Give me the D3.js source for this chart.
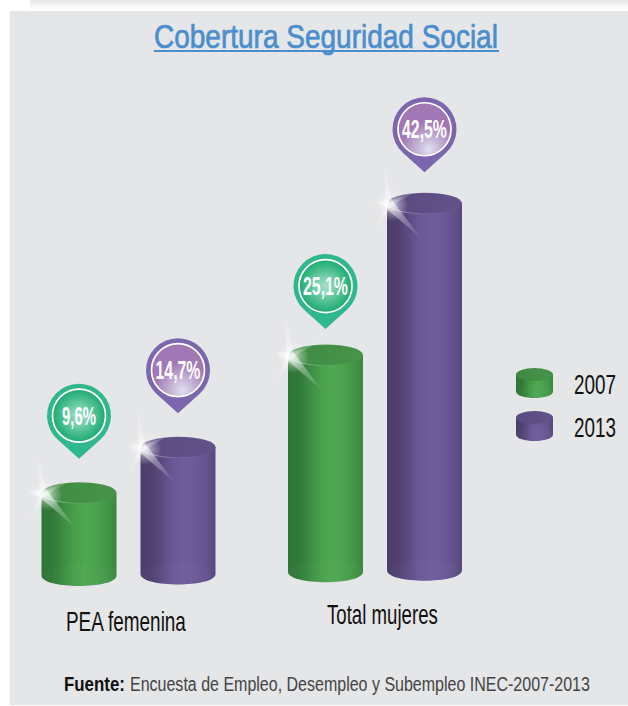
<!DOCTYPE html>
<html><head><meta charset="utf-8">
<script src="https://cdn.jsdelivr.net/npm/d3@7/dist/d3.min.js"></script>
<style>html,body{margin:0;padding:0;background:#fff}svg{display:block}text{font-family:"Liberation Sans Narrow","Liberation Sans",sans-serif}</style>
</head><body><div id="c"></div>
<script>
const titleText = "Cobertura Seguridad Social";
const categories = ["PEA femenina", "Total mujeres"];
const years = ["2007", "2013"];
const values2007 = [9.6, 25.1];
const values2013 = [14.7, 42.5];
const valueLabels2007 = ["9,6%", "25,1%"];
const valueLabels2013 = ["14,7%", "42,5%"];
const sourceBold = "Fuente:";
const sourceText = "Encuesta de Empleo, Desempleo y Subempleo INEC-2007-2013";

const W = 628, H = 706;
const svg = d3.select("#c").append("svg").attr("width", W).attr("height", H);
const defs = svg.append("defs");

const xGroup = d3.scalePoint().domain(categories).range([128.5, 375]);
const xYear = d3.scalePoint().domain(years).range([-49.5, 49.5]);
const hScale = d3.scaleLinear().domain([0, 42.5]).range([0, 367]);
const baseAt = x => 575.6 - (x - 79) * 0.0155;   // the source picture is slightly tilted
const rx = 37.5, ry = 10.5;

const pal = {
  "2007": {stops: ["#2e7537","#317a39","#3d8c43","#489e4c","#4fa851","#4ba34f","#45984a","#3a8741"],
           top: ["#3f8a43","#47944a"], pinOuter:"#2fb88e", pinA:"#a6e3cb", pinB:"#0da565", hl:[.5,.5]},
  "2013": {stops: ["#4c3d6d","#4f406f","#5c4b82","#6a5895","#6f5c9b","#6c5a98","#655391","#56477b"],
           top: ["#5b4a80","#635289"], pinOuter:"#7c66ad", pinA:"#dfe0f0", pinB:"#a278b4", hl:[.58,.88]}
};
years.forEach(y => {
  const p = pal[y];
  const g = defs.append("linearGradient").attr("id","body"+y);
  p.stops.forEach((c,i) => g.append("stop").attr("offset", i/(p.stops.length-1)).attr("stop-color", c));
  const t = defs.append("linearGradient").attr("id","top"+y);
  p.top.forEach((c,i) => t.append("stop").attr("offset", i).attr("stop-color", c));
  const r = defs.append("radialGradient").attr("id","pin"+y).attr("cx",p.hl[0]).attr("cy",p.hl[1]).attr("r",y==="2007"?.55:.7);
  r.append("stop").attr("offset",0).attr("stop-color",p.pinA);
  r.append("stop").attr("offset",y==="2007"?1:.75).attr("stop-color",p.pinB);
});
const sg = defs.append("radialGradient").attr("id","glow");
sg.append("stop").attr("offset",0).attr("stop-color","#fff").attr("stop-opacity",.8);
sg.append("stop").attr("offset",.45).attr("stop-color","#fff").attr("stop-opacity",.35);
sg.append("stop").attr("offset",1).attr("stop-color","#fff").attr("stop-opacity",0);
const sh = defs.append("linearGradient").attr("id","shade").attr("x1",0).attr("x2",0).attr("y1",0).attr("y2",1);
sh.append("stop").attr("offset",0).attr("stop-color","#e6e6e6");
sh.append("stop").attr("offset",1).attr("stop-color","#fff");
const rim = defs.append("linearGradient").attr("id","rim");
rim.append("stop").attr("offset",0).attr("stop-color","#fff").attr("stop-opacity",.7);
rim.append("stop").attr("offset",.5).attr("stop-color","#fff").attr("stop-opacity",.1);
rim.append("stop").attr("offset",1).attr("stop-color","#fff").attr("stop-opacity",0);

// panel
svg.append("rect").attr("x",30).attr("y",0).attr("width",W-30).attr("height",9).attr("fill","url(#shade)");
svg.append("rect").attr("x",10).attr("y",11).attr("width",W-10).attr("height",694).attr("fill","#e5e6e8");

// places text at x,y and squeezes it horizontally to the given width
function fit(parent, x, y, width, str, size, attrs, anchorMiddle){
  const t = parent.append("text").attr("font-size",size).text(str);
  Object.entries(attrs||{}).forEach(([k,v]) => t.attr(k,v));
  const natural = t.node().getComputedTextLength();
  const sx = width / natural;
  const x0 = anchorMiddle ? x - width/2 : x;
  t.attr("transform",`translate(${x0},${y}) scale(${sx},1)`);
  return t;
}

fit(svg, 154, 48, 344, titleText, 33, {fill:"#4a8ecd", stroke:"#4a8ecd", "stroke-width":.7});
svg.append("rect").attr("x",154).attr("y",50).attr("width",345).attr("height",2).attr("fill","#4a8ecd");

function cyl(g, cx, topY, botY, rxx, ryy, y){
  const path = d3.path();
  path.moveTo(cx-rxx, topY);
  path.lineTo(cx-rxx, botY);
  path.bezierCurveTo(cx-rxx, botY+ryy*1.33, cx+rxx, botY+ryy*1.33, cx+rxx, botY);
  path.lineTo(cx+rxx, topY);
  path.closePath();
  g.append("path").attr("d",path.toString()).attr("fill",`url(#body${y})`);
  g.append("ellipse").attr("cx",cx).attr("cy",botY).attr("rx",rxx).attr("ry",ryy)
    .attr("fill","#fff").attr("fill-opacity",.018);
  g.append("ellipse").attr("cx",cx).attr("cy",topY).attr("rx",rxx).attr("ry",ryy).attr("fill",`url(#top${y})`);
}
function sparkle(g, x, y){
  const rays = [[-5,-42,3.5,.5],[-18,-3,4,.75],[32,34,5,.55],[-16,30,3,.35],[36,-18,2.5,.3]];
  rays.forEach(([dx,dy,w,o]) => {
    const len = Math.hypot(dx,dy), nx = -dy/len*w, ny = dx/len*w;
    const id = "r"+Math.round(x)+"_"+dx;
    defs.append("linearGradient").attr("id",id).attr("gradientUnits","userSpaceOnUse")
      .attr("x1",x).attr("y1",y).attr("x2",x+dx).attr("y2",y+dy)
      .call(s=>{s.append("stop").attr("offset",0).attr("stop-color","#fff").attr("stop-opacity",o);
                s.append("stop").attr("offset",1).attr("stop-color","#fff").attr("stop-opacity",.02);});
    g.append("path").attr("d",`M${x+nx},${y+ny}L${x+dx},${y+dy}L${x-nx},${y-ny}Z`).attr("fill",`url(#${id})`);
  });
  g.append("circle").attr("cx",x+3).attr("cy",y+1).attr("r",16).attr("fill","url(#glow)");
}
function pin(g, cx, tipY, label, y, w){
  const R = 32, tipD = 43, cy = tipY - tipD;
  const a = Math.acos(R/tipD);
  const pth = d3.path();
  pth.moveTo(cx, tipY);
  pth.lineTo(cx + R*Math.sin(a), cy + R*Math.cos(a));
  pth.arc(cx, cy, R, Math.PI/2 - a, Math.PI/2 + a, true);
  pth.closePath();
  g.append("path").attr("d",pth.toString()).attr("fill",pal[y].pinOuter);
  g.append("circle").attr("cx",cx).attr("cy",cy).attr("r",26.5).attr("fill",`url(#pin${y})`)
    .attr("stroke","#fff").attr("stroke-width",1.7);
  fit(g, cx, cy+9, w, label, 26, {"font-weight":700, fill:"#fff"}, true);
}

const rows = [];
categories.forEach((c,i) => {
  rows.push({c, y:"2007", v:values2007[i], label:valueLabels2007[i]});
  rows.push({c, y:"2013", v:values2013[i], label:valueLabels2013[i]});
});
const tipGap = [34,34,26,31];
const plot = svg.append("g");
rows.forEach((d,i) => {
  const cx = xGroup(d.c) + xYear(d.y);
  const bot = baseAt(cx), top = bot - hScale(d.v);
  const g = plot.append("g");
  cyl(g, cx, top, bot, rx, ry, d.y);
  g.append("ellipse").attr("cx",cx).attr("cy",top).attr("rx",rx).attr("ry",ry)
    .attr("fill","none").attr("stroke","url(#rim)").attr("stroke-width",.8);
  sparkle(g, cx - rx + 2, top + 1);
  pin(g, cx, top - tipGap[i], d.label, d.y, d.label.length > 4 ? 45 : 34);
});

// category labels
const catLabelY = [631, 624];
const catLabelW = [120, 111];
categories.forEach((c,i) => {
  fit(svg, i ? 327 : 66, catLabelY[i], catLabelW[i], c, 27, {fill:"#111"});
});

// legend
years.forEach((y,i) => {
  const ly = 374.5 + i*43;
  cyl(svg.append("g"), 534.5, ly, ly+17, 18.5, 6.5, y);
  fit(svg, 574, ly+19, 42, y, 27, {fill:"#111"});
});

// source
fit(svg, 64, 691, 61, sourceBold, 20, {"font-weight":700, fill:"#111"});
fit(svg, 130, 691, 460, sourceText, 20, {fill:"#444"});
</script></body></html>
